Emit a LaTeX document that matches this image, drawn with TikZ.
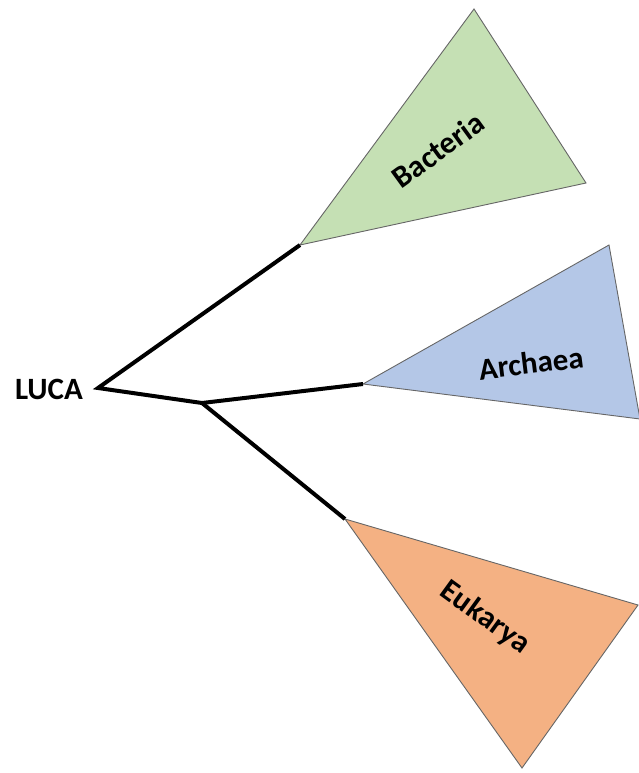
\documentclass[tikz,border=0pt]{standalone}
\usepackage{fontspec}
\setmainfont{Carlito}
\definecolor{bacfill}{RGB}{197,224,180}
\definecolor{arcfill}{RGB}{180,199,231}
\definecolor{eukfill}{RGB}{244,177,131}
\begin{document}
\begin{tikzpicture}[x=1pt,y=-1pt,
  clade/.style={draw=gray!80!black, line width=0.9pt, line join=miter},
  branch/.style={line width=4pt, black},
  lbl/.style={font=\bfseries\fontsize{31}{36}\selectfont, inner sep=0pt}]
\useasboundingbox (0,0) rectangle (639,773);
% tree vertices
\coordinate (luca) at (98,388);
\coordinate (split) at (202,403);
\coordinate (bac) at (300,245);
\coordinate (arc) at (363,384);
\coordinate (euk) at (345,519);
% clade wedges
\draw[clade, fill=bacfill] (bac) -- (474,9) -- (586,183) -- cycle;
\draw[clade, fill=arcfill] (arc) -- (609,245) -- (640,419) -- cycle;
\draw[clade, fill=eukfill] (euk) -- (638,605) -- (522,768) -- cycle;
% branches
\draw[branch] (bac) -- (luca) -- (split) -- (arc);
\draw[branch] (split) -- (euk);
% labels
\node[lbl] (lucalbl) at (49,389) {LUCA};
\node[lbl, rotate=36] (baclbl) at (438,150) {Bacteria};
\node[lbl, rotate=7] (arclbl) at (531,363) {Archaea};
\node[lbl, rotate=-36] (euklbl) at (485,618) {Eukarya};
\end{tikzpicture}
\end{document}
